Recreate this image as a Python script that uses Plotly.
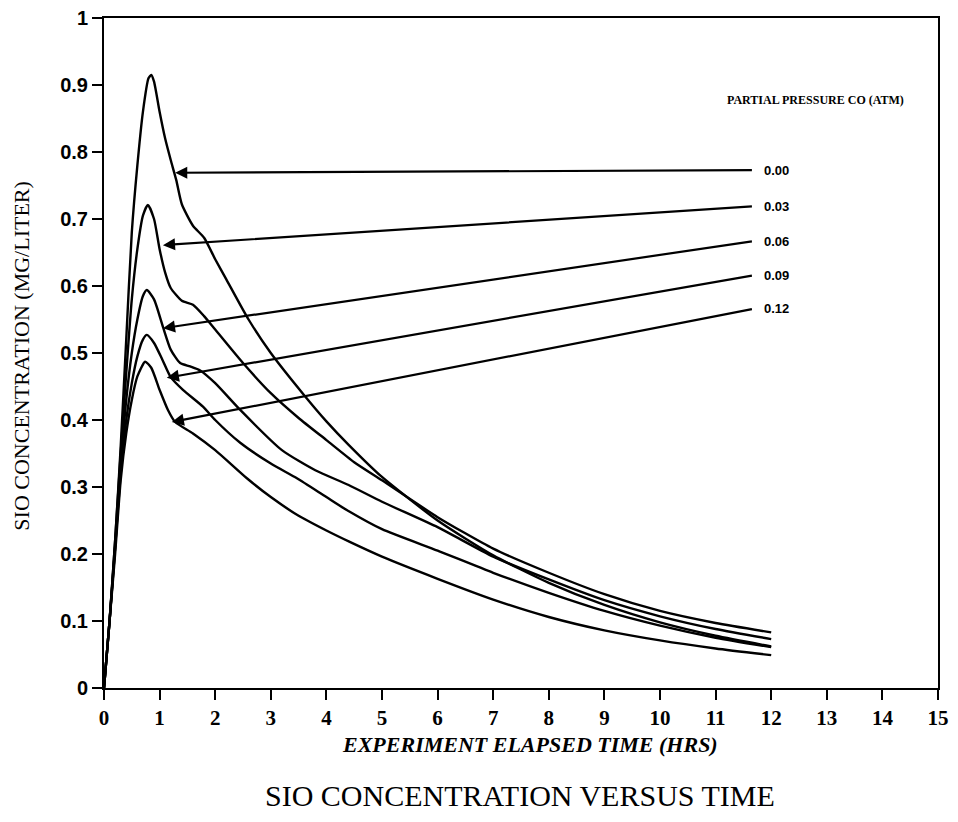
import plotly.graph_objects as go

# Series data (time in hrs, SiO concentration in mg/liter)
t_000 = [0, 0.1, 0.2, 0.3, 0.4, 0.5, 0.6, 0.7, 0.8, 0.85, 0.9, 1.0, 1.1, 1.2, 1.3, 1.4, 1.6, 1.8, 2.0, 2.2, 2.6, 3.0, 3.6, 4.0, 4.4, 5.0, 6.0, 7.0, 8.0, 9.0, 10.0, 11.0, 12.0]
c_000 = [0, 0.10, 0.22, 0.36, 0.52, 0.68, 0.78, 0.86, 0.91, 0.915, 0.905, 0.86, 0.82, 0.788, 0.758, 0.722, 0.69, 0.672, 0.64, 0.61, 0.55, 0.50, 0.437, 0.398, 0.363, 0.315, 0.25, 0.198, 0.157, 0.124, 0.098, 0.078, 0.062]

t_003 = [0, 0.1, 0.2, 0.3, 0.4, 0.5, 0.6, 0.7, 0.79, 0.9, 1.0, 1.1, 1.2, 1.4, 1.6, 1.8, 2.0, 2.5, 3.0, 3.5, 4.0, 4.5, 5.0, 6.0, 7.0, 8.0, 9.0, 10.0, 11.0, 12.0]
c_003 = [0, 0.10, 0.22, 0.35, 0.47, 0.58, 0.655, 0.705, 0.721, 0.70, 0.655, 0.62, 0.597, 0.578, 0.572, 0.555, 0.535, 0.485, 0.44, 0.403, 0.37, 0.337, 0.31, 0.255, 0.208, 0.172, 0.14, 0.115, 0.097, 0.083]

t_006 = [0, 0.1, 0.2, 0.3, 0.4, 0.5, 0.6, 0.7, 0.77, 0.9, 1.06, 1.2, 1.37, 1.55, 1.73, 2.0, 2.45, 3.2, 3.8, 4.4, 5.0, 6.0, 7.0, 8.0, 9.0, 10.0, 11.0, 12.0]
c_006 = [0, 0.10, 0.21, 0.33, 0.43, 0.50, 0.55, 0.585, 0.594, 0.58, 0.539, 0.505, 0.485, 0.48, 0.474, 0.455, 0.415, 0.355, 0.325, 0.303, 0.278, 0.24, 0.196, 0.162, 0.131, 0.107, 0.088, 0.073]

t_009 = [0, 0.1, 0.2, 0.3, 0.4, 0.5, 0.6, 0.7, 0.77, 0.9, 1.05, 1.2, 1.42, 1.78, 2.0, 2.45, 3.0, 3.47, 4.0, 4.42, 5.0, 6.0, 7.0, 8.0, 9.0, 10.0, 11.0, 12.0]
c_009 = [0, 0.10, 0.21, 0.32, 0.40, 0.455, 0.495, 0.52, 0.527, 0.515, 0.49, 0.464, 0.445, 0.42, 0.40, 0.366, 0.335, 0.313, 0.285, 0.263, 0.237, 0.205, 0.172, 0.142, 0.115, 0.093, 0.075, 0.061]

t_012 = [0, 0.1, 0.2, 0.3, 0.4, 0.5, 0.6, 0.74, 0.85, 1.0, 1.15, 1.28, 1.6, 2.0, 2.57, 3.0, 3.5, 4.0, 4.42, 5.0, 6.0, 7.0, 8.0, 9.0, 10.0, 11.0, 12.0]
c_012 = [0, 0.10, 0.20, 0.31, 0.38, 0.43, 0.465, 0.487, 0.478, 0.445, 0.415, 0.397, 0.38, 0.355, 0.313, 0.285, 0.257, 0.235, 0.218, 0.196, 0.163, 0.132, 0.106, 0.086, 0.071, 0.059, 0.049]

series_labels = ["0.00", "0.03", "0.06", "0.09", "0.12"]
series_t = [t_000, t_003, t_006, t_009, t_012]
series_c = [c_000, c_003, c_006, c_009, c_012]

# Leader arrows: tip on curve (x, y) and label end (x, y)
arrow_tip_x = [1.28, 1.06, 1.06, 1.13, 1.22]
arrow_tip_y = [0.769, 0.661, 0.537, 0.463, 0.397]
label_x = [11.68, 11.68, 11.68, 11.68, 11.68]
label_y = [0.773, 0.719, 0.667, 0.616, 0.566]

x_ticks = list(range(0, 16))
y_ticks = [0, 0.1, 0.2, 0.3, 0.4, 0.5, 0.6, 0.7, 0.8, 0.9, 1.0]
y_tick_text = ["0", "0.1", "0.2", "0.3", "0.4", "0.5", "0.6", "0.7", "0.8", "0.9", "1"]

SERIF = "Liberation Serif"
SANS = "Liberation Sans"

fig = go.Figure()
for lab, t, c in zip(series_labels, series_t, series_c):
    fig.add_trace(go.Scatter(x=t, y=c, mode="lines", name=lab,
                             line=dict(color="black", width=2.4, shape="spline", smoothing=0.6),
                             showlegend=False, hoverinfo="x+y+name"))

annotations = []
for lab, tx, ty, lx, ly in zip(series_labels, arrow_tip_x, arrow_tip_y, label_x, label_y):
    annotations.append(dict(x=tx, y=ty, ax=lx, ay=ly, xref="x", yref="y", axref="x", ayref="y",
                            text="", showarrow=True, arrowhead=2, arrowsize=1.1, arrowwidth=2.2,
                            arrowcolor="black", standoff=0))
    annotations.append(dict(x=lx + 0.15, y=ly, xref="x", yref="y", text="<b>%s</b>" % lab,
                            showarrow=False, xanchor="left", yanchor="middle",
                            font=dict(family=SANS, size=13, color="black")))

annotations.append(dict(x=12.8, y=0.878, xref="x", yref="y", text="<b>PARTIAL PRESSURE CO (ATM)</b>",
                        showarrow=False, xanchor="center", yanchor="middle",
                        font=dict(family=SERIF, size=12, color="black")))
annotations.append(dict(x=(22 - 104) / 834.0, y=0.496, xref="paper", yref="paper",
                        text="SIO CONCENTRATION (MG/LITER)",
                        showarrow=False, textangle=-90, xanchor="center", yanchor="middle",
                        font=dict(family=SERIF, size=22, color="black")))
annotations.append(dict(x=0.511, y=-0.085, xref="paper", yref="paper",
                        text="<b><i>EXPERIMENT ELAPSED TIME (HRS)</i></b>",
                        showarrow=False, xanchor="center", yanchor="middle",
                        font=dict(family=SERIF, size=22, color="black")))
annotations.append(dict(x=0.499, y=-0.161, xref="paper", yref="paper",
                        text="SIO CONCENTRATION VERSUS TIME",
                        showarrow=False, xanchor="center", yanchor="middle",
                        font=dict(family=SERIF, size=30, color="black")))

fig.update_layout(
    width=958, height=822,
    margin=dict(l=104, r=20, t=18, b=134),
    paper_bgcolor="white", plot_bgcolor="white",
    annotations=annotations,
    showlegend=False,
)
fig.update_xaxes(range=[0, 15], tickvals=x_ticks, ticktext=["<b>%d</b>" % v for v in x_ticks],
                 showgrid=False, zeroline=False, showline=True, linecolor="black", linewidth=2,
                 mirror=True, ticks="outside", ticklen=10, tickwidth=2, tickcolor="black",
                 automargin=False,
                 tickfont=dict(family=SERIF, size=21, color="black"))
fig.update_yaxes(range=[0, 1], tickvals=y_ticks, ticktext=["<b>%s</b>" % s for s in y_tick_text],
                 showgrid=False, zeroline=False, showline=True, linecolor="black", linewidth=2,
                 mirror=True, ticks="outside", ticklen=10, tickwidth=2, tickcolor="black",
                 automargin=False,
                 tickfont=dict(family=SANS, size=20, color="black"))

fig.write_html("out.html", config={"displayModeBar": False},
               post_script="document.body.style.margin='0px';document.body.style.padding='0px';")
